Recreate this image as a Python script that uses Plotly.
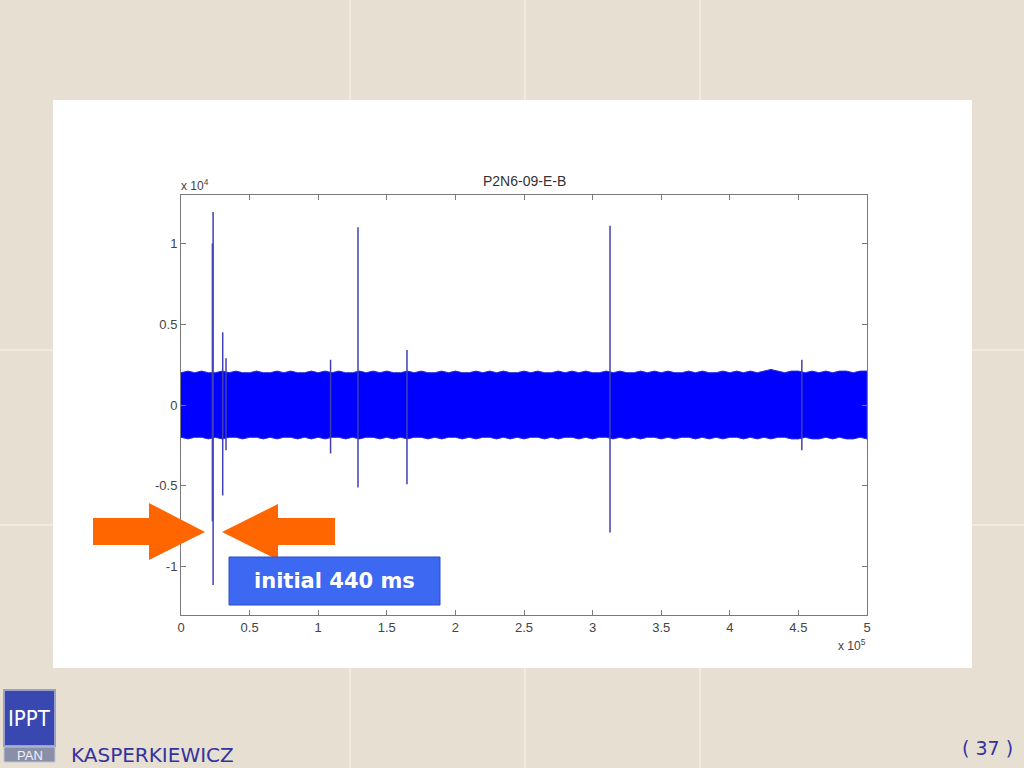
import plotly.graph_objects as go

# ---------------- data (x in units of 1e5, y in units of 1e4) ----------------
band_x = [0.0, 0.05, 0.1, 0.15, 0.2, 0.25, 0.3, 0.35, 0.4, 0.45,
          0.5, 0.55, 0.6, 0.65, 0.7, 0.75, 0.8, 0.85, 0.9, 0.95,
          1.0, 1.05, 1.1, 1.15, 1.2, 1.25, 1.3, 1.35, 1.4, 1.45,
          1.5, 1.55, 1.6, 1.65, 1.7, 1.75, 1.8, 1.85, 1.9, 1.95,
          2.0, 2.05, 2.1, 2.15, 2.2, 2.25, 2.3, 2.35, 2.4, 2.45,
          2.5, 2.55, 2.6, 2.65, 2.7, 2.75, 2.8, 2.85, 2.9, 2.95,
          3.0, 3.05, 3.1, 3.15, 3.2, 3.25, 3.3, 3.35, 3.4, 3.45,
          3.5, 3.55, 3.6, 3.65, 3.7, 3.75, 3.8, 3.85, 3.9, 3.95,
          4.0, 4.05, 4.1, 4.15, 4.2, 4.25, 4.3, 4.35, 4.4, 4.45,
          4.5, 4.55, 4.6, 4.65, 4.7, 4.75, 4.8, 4.85, 4.9, 4.95, 5.0]
band_upper = [0.20, 0.21, 0.20, 0.21, 0.20, 0.20, 0.21, 0.20, 0.21, 0.20,
              0.20, 0.21, 0.20, 0.20, 0.21, 0.20, 0.21, 0.20, 0.20, 0.21,
              0.20, 0.21, 0.20, 0.21, 0.20, 0.20, 0.21, 0.20, 0.21, 0.20,
              0.21, 0.20, 0.20, 0.21, 0.20, 0.21, 0.20, 0.20, 0.21, 0.20,
              0.21, 0.20, 0.20, 0.21, 0.20, 0.21, 0.20, 0.21, 0.20, 0.20,
              0.21, 0.20, 0.21, 0.20, 0.20, 0.21, 0.20, 0.21, 0.20, 0.21,
              0.20, 0.20, 0.21, 0.20, 0.21, 0.20, 0.20, 0.21, 0.20, 0.21,
              0.20, 0.21, 0.20, 0.20, 0.21, 0.20, 0.21, 0.20, 0.20, 0.21,
              0.20, 0.21, 0.20, 0.21, 0.20, 0.21, 0.22, 0.21, 0.20, 0.21,
              0.21, 0.20, 0.21, 0.20, 0.21, 0.20, 0.21, 0.21, 0.20, 0.21, 0.21]
band_lower = [-0.20, -0.21, -0.20, -0.20, -0.21, -0.20, -0.21, -0.20, -0.20, -0.21,
              -0.20, -0.20, -0.21, -0.20, -0.21, -0.20, -0.20, -0.21, -0.20, -0.21,
              -0.20, -0.21, -0.20, -0.20, -0.21, -0.20, -0.21, -0.20, -0.20, -0.21,
              -0.20, -0.21, -0.20, -0.21, -0.20, -0.20, -0.21, -0.20, -0.21, -0.20,
              -0.20, -0.21, -0.20, -0.21, -0.20, -0.20, -0.21, -0.20, -0.21, -0.20,
              -0.21, -0.20, -0.20, -0.21, -0.20, -0.21, -0.20, -0.20, -0.21, -0.20,
              -0.21, -0.20, -0.20, -0.21, -0.20, -0.21, -0.20, -0.21, -0.20, -0.20,
              -0.21, -0.20, -0.21, -0.20, -0.20, -0.21, -0.20, -0.21, -0.20, -0.21,
              -0.20, -0.20, -0.21, -0.20, -0.21, -0.20, -0.21, -0.20, -0.20, -0.21,
              -0.21, -0.20, -0.21, -0.21, -0.20, -0.21, -0.20, -0.21, -0.21, -0.20, -0.21]

spike_x = [0.229, 0.234, 0.304, 0.328, 1.09, 1.29, 1.647, 3.127, 4.525]
spike_top = [1.00, 1.195, 0.45, 0.29, 0.28, 1.10, 0.34, 1.11, 0.28]
spike_bottom = [-0.72, -1.115, -0.56, -0.28, -0.30, -0.51, -0.49, -0.79, -0.28]

x_ticks = [0, 0.5, 1, 1.5, 2, 2.5, 3, 3.5, 4, 4.5, 5]
x_tick_labels = ["0", "0.5", "1", "1.5", "2", "2.5", "3", "3.5", "4", "4.5", "5"]
y_ticks = [-1, -0.5, 0, 0.5, 1]
y_tick_labels = ["-1", "-0.5", "0", "0.5", "1"]

title_text = "P2N6-09-E-B"
label_text = "initial 440 ms"
author_text = "KASPERKIEWICZ"
page_text = "( 37 )"

# ---------------- layout geometry (pixels) ----------------
W, H = 1024, 768
PL, PR, PT, PB = 181, 867, 195, 615


def px(x):
    return (x - PL) / (PR - PL)


def py(y):
    return 1 - (y - PT) / (PB - PT)


fig = go.Figure()

# noise band
fig.add_trace(go.Scatter(
    x=band_x + band_x[::-1],
    y=band_upper + band_lower[::-1],
    fill="toself", fillcolor="#0000ff",
    line=dict(color="#2a2ad8", width=1),
    mode="lines", hoverinfo="skip", showlegend=False))

# spikes
sx, sy = [], []
for x, t, b in zip(spike_x, spike_top, spike_bottom):
    sx += [x, x, None]
    sy += [b, t, None]
fig.add_trace(go.Scatter(x=sx, y=sy, mode="lines",
                         line=dict(color="#4040b4", width=1.5),
                         hoverinfo="skip", showlegend=False))

shapes = []
# slide tile lines
for vx in [350, 525, 700]:
    shapes.append(dict(type="line", xref="paper", yref="paper", layer="below",
                       x0=px(vx), x1=px(vx), y0=py(0), y1=py(H),
                       line=dict(color="#f3eee6", width=1.5)))
for hy in [350, 525]:
    shapes.append(dict(type="line", xref="paper", yref="paper", layer="below",
                       x0=px(0), x1=px(W), y0=py(hy), y1=py(hy),
                       line=dict(color="#f3eee6", width=1.5)))
# white panel
shapes.append(dict(type="rect", xref="paper", yref="paper", layer="below",
                   x0=px(53), x1=px(972), y0=py(668), y1=py(100),
                   fillcolor="white", line=dict(width=0)))


def poly(points, color):
    path = "M " + " L ".join(f"{px(a):.5f},{py(b):.5f}" for a, b in points) + " Z"
    return dict(type="path", xref="paper", yref="paper", path=path,
                fillcolor=color, line=dict(width=0), layer="above")


# orange arrows
shapes.append(poly([(93, 518), (149, 518), (149, 503), (205, 532),
                    (149, 560), (149, 545), (93, 545)], "#ff6600"))
shapes.append(poly([(335, 518), (278, 518), (278, 504), (222, 532),
                    (278, 560), (278, 545), (335, 545)], "#ff6600"))
# label box
shapes.append(dict(type="rect", xref="paper", yref="paper", layer="above",
                   x0=px(229), x1=px(440), y0=py(605), y1=py(557),
                   fillcolor="#3d69f2", line=dict(color="#2d4fc8", width=1)))
# logo
shapes.append(dict(type="rect", xref="paper", yref="paper", layer="above",
                   x0=px(4), x1=px(55), y0=py(746), y1=py(690),
                   fillcolor="#3848b0", line=dict(color="#9aa0c8", width=2)))
shapes.append(dict(type="rect", xref="paper", yref="paper", layer="above",
                   x0=px(4), x1=px(55), y0=py(762), y1=py(747),
                   fillcolor="#8a8fa8", line=dict(color="#c0c4d4", width=1)))

annotations = [
    dict(text=title_text, x=px(524), y=py(181), xref="paper", yref="paper",
         xanchor="center", yanchor="middle", showarrow=False,
         font=dict(family="Liberation Sans", size=14, color="#333")),
    dict(text="x 10<sup>4</sup>", x=px(179), y=py(185), xref="paper", yref="paper",
         xanchor="left", yanchor="middle", showarrow=False,
         font=dict(family="Liberation Sans", size=12, color="#444")),
    dict(text="x 10<sup>5</sup>", x=px(868), y=py(645), xref="paper", yref="paper",
         xanchor="right", yanchor="middle", showarrow=False,
         font=dict(family="Liberation Sans", size=12, color="#444")),
    dict(text="<b>" + label_text + "</b>", x=px(334), y=py(581), xref="paper", yref="paper",
         xanchor="center", yanchor="middle", showarrow=False,
         font=dict(family="DejaVu Sans", size=21, color="white")),
    dict(text=author_text, x=px(69), y=py(755), xref="paper", yref="paper",
         xanchor="left", yanchor="middle", showarrow=False,
         font=dict(family="DejaVu Sans", size=20, color="#3333a0")),
    dict(text=page_text, x=px(1015), y=py(748), xref="paper", yref="paper",
         xanchor="right", yanchor="middle", showarrow=False,
         font=dict(family="DejaVu Sans", size=19, color="#3333a0")),
    dict(text="IPPT", x=px(29.5), y=py(718), xref="paper", yref="paper",
         xanchor="center", yanchor="middle", showarrow=False,
         font=dict(family="DejaVu Sans Condensed, Liberation Sans Narrow, Liberation Sans",
                   size=22, color="white")),
    dict(text="PAN", x=px(29.5), y=py(755), xref="paper", yref="paper",
         xanchor="center", yanchor="middle", showarrow=False,
         font=dict(family="Liberation Sans", size=13, color="#f0f0ff")),
]

axis_common = dict(showgrid=False, zeroline=False, showline=True, linecolor="#7a7a7a",
                   linewidth=1, mirror="ticks", ticks="inside", ticklen=5,
                   tickcolor="#7a7a7a",
                   tickfont=dict(family="Liberation Sans", size=13, color="#444"))

fig.update_layout(
    width=W, height=H, autosize=False,
    margin=dict(l=PL, r=W - PR, t=PT, b=H - PB),
    paper_bgcolor="#e7dfd1", plot_bgcolor="rgba(0,0,0,0)",
    xaxis=dict(range=[0, 5], tickvals=x_ticks, ticktext=x_tick_labels, **axis_common),
    yaxis=dict(range=[-1.3, 1.3], tickvals=y_ticks, ticktext=y_tick_labels, **axis_common),
    shapes=shapes, annotations=annotations, showlegend=False,
)

fig.write_html("out.html", config={"displayModeBar": False},
               post_script="document.body.style.margin='0';document.body.style.padding='0';")
